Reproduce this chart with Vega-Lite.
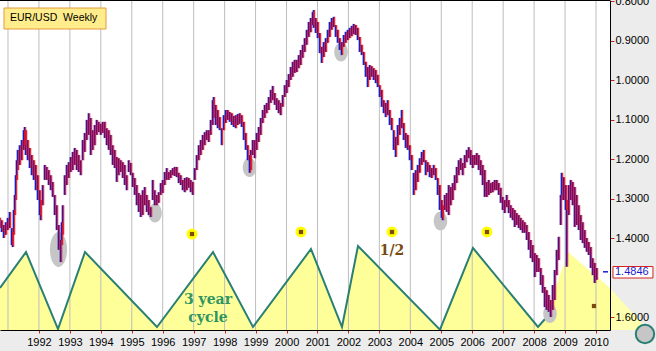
{
  "$schema": "https://vega.github.io/schema/vega-lite/v6.json",
  "width": 610,
  "height": 330,
  "autosize": {"type": "none"},
  "padding": {"left": 0, "top": 0, "right": 46, "bottom": 21},
  "background": "#ececec",
  "config": {
    "view": {"fill": "white", "stroke": null},
    "font": "Liberation Sans",
    "axisX": {"labelOverlap": false, "labelFlush": false, "labelFontSize": 11, "labelColor": "#000000", "labelPadding": 3, "tickColor": "#cc2222", "tickSize": 3, "domainColor": "#000000", "grid": false, "title": null},
    "axisY": {"labelOverlap": false, "labelFontSize": 11, "labelColor": "#000000", "labelPadding": 1, "tickColor": "#cc2222", "tickSize": 4, "domainColor": "#000000", "grid": false, "title": null}
  },
  "datasets": {
    "fill": [{"t":1990.742,"v":1.5256},{"t":1991.582,"v":1.4345},{"t":1992.616,"v":1.6294},{"t":1993.488,"v":1.4345},{"t":1995.815,"v":1.6243},{"t":1997.624,"v":1.4345},{"t":1998.916,"v":1.6243},{"t":2000.790,"v":1.4269},{"t":2001.792,"v":1.6243},{"t":2002.309,"v":1.4193},{"t":2004.958,"v":1.631},{"t":2006.025,"v":1.4243},{"t":2008.125,"v":1.6243},{"t":2008.351,"v":1.6041},{"t":2009.094,"v":1.4345},{"t":2010.452,"v":1.5256}],
    "zig": [{"t":1990.742,"v":1.5256},{"t":1991.582,"v":1.4345},{"t":1992.616,"v":1.6294},{"t":1993.488,"v":1.4345},{"t":1995.815,"v":1.6243},{"t":1997.624,"v":1.4345},{"t":1998.916,"v":1.6243},{"t":2000.790,"v":1.4269},{"t":2001.792,"v":1.6243},{"t":2002.309,"v":1.4193},{"t":2004.958,"v":1.631},{"t":2006.025,"v":1.4243},{"t":2008.125,"v":1.6243},{"t":2008.351,"v":1.6041}],
    "proj": [{"t":2010.452,"v":1.5256},{"t":2011.679,"v":1.6319}],
    "years": [{"t":1991},{"t":1992},{"t":1993},{"t":1994},{"t":1995},{"t":1996},{"t":1997},{"t":1998},{"t":1999},{"t":2000},{"t":2001},{"t":2002},{"t":2003},{"t":2004},{"t":2005},{"t":2006},{"t":2007},{"t":2008},{"t":2009},{"t":2010}],
    "bigLow": [{"t":1992.632,"v":1.4281}],
    "lows": [{"t":1995.750,"v":1.3357},{"t":1998.803,"v":1.2205},{"t":2001.760,"v":0.9281},{"t":2004.974,"v":1.3560},{"t":2008.513,"v":1.5902}],
    "dots": [{"t":1996.946,"v":1.3889},{"t":2000.467,"v":1.3838},{"t":2003.408,"v":1.3838},{"t":2006.477,"v":1.3838}],
    "marks": [{"t":1996.946,"v":1.3889},{"t":2000.467,"v":1.3838},{"t":2003.408,"v":1.3838},{"t":2006.477,"v":1.3838},{"t":2009.934,"v":1.5712}],
    "price": [
{"t":1990.742,"a":1.348,"b":1.374},{"t":1990.807,"a":1.354,"b":1.384},{"t":1990.871,"a":1.366,"b":1.399},{"t":1990.936,"a":1.359,"b":1.391},{"t":1991.000,"a":1.348,"b":1.379},{"t":1991.065,"a":1.333,"b":1.374},{"t":1991.130,"a":1.374,"b":1.417},{"t":1991.162,"a":1.384,"b":1.422},{"t":1991.194,"a":1.328,"b":1.391},{"t":1991.227,"a":1.290,"b":1.341},{"t":1991.259,"a":1.240,"b":1.303},{"t":1991.291,"a":1.202,"b":1.252},{"t":1991.324,"a":1.176,"b":1.227},{"t":1991.388,"a":1.164,"b":1.214},{"t":1991.453,"a":1.151,"b":1.202},{"t":1991.517,"a":1.126,"b":1.176},{"t":1991.550,"a":1.118,"b":1.164},{"t":1991.582,"a":1.126,"b":1.189},{"t":1991.647,"a":1.151,"b":1.202},{"t":1991.711,"a":1.171,"b":1.222},{"t":1991.776,"a":1.189,"b":1.240},{"t":1991.841,"a":1.202,"b":1.252},{"t":1991.905,"a":1.214,"b":1.278},{"t":1991.970,"a":1.240,"b":1.303},
{"t":1992.034,"a":1.278,"b":1.341},{"t":1992.067,"a":1.303,"b":1.354},{"t":1992.131,"a":1.265,"b":1.316},{"t":1992.196,"a":1.214,"b":1.252},{"t":1992.261,"a":1.219,"b":1.252},{"t":1992.325,"a":1.227,"b":1.265},{"t":1992.390,"a":1.240,"b":1.278},{"t":1992.454,"a":1.257,"b":1.295},{"t":1992.519,"a":1.290,"b":1.341},{"t":1992.584,"a":1.316,"b":1.379},{"t":1992.648,"a":1.366,"b":1.429},{"t":1992.713,"a":1.404,"b":1.460},{"t":1992.745,"a":1.359,"b":1.417},{"t":1992.778,"a":1.316,"b":1.391},{"t":1992.842,"a":1.240,"b":1.290},{"t":1992.907,"a":1.214,"b":1.265},{"t":1992.971,"a":1.207,"b":1.247},
{"t":1993.036,"a":1.194,"b":1.232},{"t":1993.101,"a":1.181,"b":1.227},{"t":1993.165,"a":1.171,"b":1.214},{"t":1993.230,"a":1.176,"b":1.227},{"t":1993.294,"a":1.189,"b":1.232},{"t":1993.359,"a":1.202,"b":1.240},{"t":1993.424,"a":1.151,"b":1.202},{"t":1993.488,"a":1.133,"b":1.181},{"t":1993.553,"a":1.100,"b":1.151},{"t":1993.618,"a":1.083,"b":1.138},{"t":1993.682,"a":1.095,"b":1.189},{"t":1993.747,"a":1.126,"b":1.176},{"t":1993.811,"a":1.113,"b":1.164},{"t":1993.876,"a":1.100,"b":1.138},{"t":1993.941,"a":1.105,"b":1.131},
{"t":1994.005,"a":1.110,"b":1.138},{"t":1994.070,"a":1.105,"b":1.133},{"t":1994.135,"a":1.105,"b":1.146},{"t":1994.199,"a":1.121,"b":1.164},{"t":1994.264,"a":1.126,"b":1.176},{"t":1994.328,"a":1.138,"b":1.189},{"t":1994.393,"a":1.164,"b":1.214},{"t":1994.458,"a":1.176,"b":1.222},{"t":1994.522,"a":1.194,"b":1.257},{"t":1994.587,"a":1.197,"b":1.240},{"t":1994.652,"a":1.202,"b":1.232},{"t":1994.716,"a":1.207,"b":1.247},{"t":1994.781,"a":1.214,"b":1.265},{"t":1994.845,"a":1.240,"b":1.278},{"t":1994.910,"a":1.202,"b":1.232},{"t":1994.975,"a":1.209,"b":1.240},
{"t":1995.039,"a":1.234,"b":1.270},{"t":1995.104,"a":1.247,"b":1.290},{"t":1995.168,"a":1.265,"b":1.316},{"t":1995.233,"a":1.285,"b":1.333},{"t":1995.298,"a":1.290,"b":1.346},{"t":1995.362,"a":1.278,"b":1.341},{"t":1995.427,"a":1.270,"b":1.316},{"t":1995.492,"a":1.290,"b":1.333},{"t":1995.556,"a":1.303,"b":1.341},{"t":1995.621,"a":1.321,"b":1.346},{"t":1995.685,"a":1.252,"b":1.303},{"t":1995.750,"a":1.278,"b":1.316},{"t":1995.815,"a":1.290,"b":1.316},{"t":1995.879,"a":1.283,"b":1.310},{"t":1995.944,"a":1.260,"b":1.290},
{"t":1996.008,"a":1.252,"b":1.285},{"t":1996.073,"a":1.232,"b":1.265},{"t":1996.138,"a":1.222,"b":1.252},{"t":1996.202,"a":1.232,"b":1.252},{"t":1996.267,"a":1.227,"b":1.247},{"t":1996.332,"a":1.222,"b":1.240},{"t":1996.396,"a":1.219,"b":1.242},{"t":1996.461,"a":1.219,"b":1.245},{"t":1996.525,"a":1.234,"b":1.260},{"t":1996.590,"a":1.240,"b":1.265},{"t":1996.655,"a":1.252,"b":1.278},{"t":1996.719,"a":1.247,"b":1.283},{"t":1996.784,"a":1.245,"b":1.278},{"t":1996.848,"a":1.247,"b":1.272},{"t":1996.913,"a":1.252,"b":1.283},{"t":1996.978,"a":1.257,"b":1.290},
{"t":1997.042,"a":1.222,"b":1.252},{"t":1997.107,"a":1.189,"b":1.227},{"t":1997.172,"a":1.164,"b":1.202},{"t":1997.236,"a":1.151,"b":1.189},{"t":1997.301,"a":1.138,"b":1.176},{"t":1997.366,"a":1.131,"b":1.164},{"t":1997.430,"a":1.126,"b":1.151},{"t":1997.495,"a":1.126,"b":1.156},{"t":1997.559,"a":1.100,"b":1.138},{"t":1997.624,"a":1.050,"b":1.113},{"t":1997.656,"a":1.042,"b":1.095},{"t":1997.721,"a":1.062,"b":1.113},{"t":1997.786,"a":1.075,"b":1.121},{"t":1997.850,"a":1.093,"b":1.126},{"t":1997.915,"a":1.121,"b":1.164},{"t":1997.979,"a":1.088,"b":1.126},
{"t":1998.044,"a":1.075,"b":1.108},{"t":1998.109,"a":1.075,"b":1.100},{"t":1998.173,"a":1.080,"b":1.105},{"t":1998.238,"a":1.083,"b":1.113},{"t":1998.303,"a":1.090,"b":1.118},{"t":1998.367,"a":1.088,"b":1.121},{"t":1998.432,"a":1.085,"b":1.113},{"t":1998.496,"a":1.083,"b":1.110},{"t":1998.561,"a":1.088,"b":1.118},{"t":1998.626,"a":1.105,"b":1.151},{"t":1998.690,"a":1.133,"b":1.176},{"t":1998.755,"a":1.164,"b":1.202},{"t":1998.820,"a":1.189,"b":1.234},{"t":1998.852,"a":1.176,"b":1.227},{"t":1998.916,"a":1.151,"b":1.189},{"t":1998.981,"a":1.151,"b":1.197},
{"t":1999.046,"a":1.133,"b":1.176},{"t":1999.110,"a":1.118,"b":1.156},{"t":1999.175,"a":1.095,"b":1.138},{"t":1999.240,"a":1.075,"b":1.108},{"t":1999.304,"a":1.062,"b":1.095},{"t":1999.369,"a":1.057,"b":1.083},{"t":1999.433,"a":1.042,"b":1.075},{"t":1999.498,"a":1.024,"b":1.057},{"t":1999.563,"a":1.014,"b":1.050},{"t":1999.627,"a":1.032,"b":1.062},{"t":1999.692,"a":1.045,"b":1.075},{"t":1999.756,"a":1.050,"b":1.083},{"t":1999.821,"a":1.057,"b":1.088},{"t":1999.886,"a":1.037,"b":1.067},{"t":1999.950,"a":1.012,"b":1.042},
{"t":2000.015,"a":0.999,"b":1.032},{"t":2000.079,"a":0.984,"b":1.017},{"t":2000.144,"a":0.966,"b":0.999},{"t":2000.209,"a":0.953,"b":0.991},{"t":2000.273,"a":0.948,"b":0.981},{"t":2000.338,"a":0.948,"b":0.979},{"t":2000.403,"a":0.936,"b":0.969},{"t":2000.467,"a":0.923,"b":0.961},{"t":2000.532,"a":0.910,"b":0.943},{"t":2000.596,"a":0.893,"b":0.928},{"t":2000.661,"a":0.872,"b":0.910},{"t":2000.726,"a":0.852,"b":0.890},{"t":2000.790,"a":0.842,"b":0.878},{"t":2000.855,"a":0.827,"b":0.860},{"t":2000.887,"a":0.822,"b":0.867},{"t":2000.952,"a":0.842,"b":0.880},
{"t":2001.017,"a":0.852,"b":0.893},{"t":2001.081,"a":0.880,"b":0.931},{"t":2001.146,"a":0.915,"b":0.956},{"t":2001.210,"a":0.903,"b":0.941},{"t":2001.275,"a":0.893,"b":0.928},{"t":2001.340,"a":0.872,"b":0.905},{"t":2001.404,"a":0.852,"b":0.890},{"t":2001.469,"a":0.842,"b":0.872},{"t":2001.534,"a":0.839,"b":0.865},{"t":2001.598,"a":0.860,"b":0.890},{"t":2001.663,"a":0.872,"b":0.905},{"t":2001.727,"a":0.893,"b":0.923},{"t":2001.792,"a":0.903,"b":0.936},{"t":2001.857,"a":0.885,"b":0.915},{"t":2001.921,"a":0.877,"b":0.905},{"t":2001.986,"a":0.872,"b":0.898},
{"t":2002.051,"a":0.867,"b":0.893},{"t":2002.115,"a":0.862,"b":0.888},{"t":2002.180,"a":0.857,"b":0.883},{"t":2002.244,"a":0.860,"b":0.885},{"t":2002.309,"a":0.867,"b":0.898},{"t":2002.374,"a":0.890,"b":0.928},{"t":2002.438,"a":0.910,"b":0.936},{"t":2002.503,"a":0.928,"b":0.961},{"t":2002.567,"a":0.953,"b":0.991},{"t":2002.632,"a":0.966,"b":1.017},{"t":2002.697,"a":0.961,"b":0.999},{"t":2002.761,"a":0.964,"b":0.991},{"t":2002.826,"a":0.969,"b":0.999},{"t":2002.891,"a":0.974,"b":1.007},{"t":2002.955,"a":0.986,"b":1.017},
{"t":2003.020,"a":1.012,"b":1.042},{"t":2003.084,"a":1.024,"b":1.067},{"t":2003.149,"a":1.050,"b":1.083},{"t":2003.214,"a":1.057,"b":1.093},{"t":2003.278,"a":1.050,"b":1.088},{"t":2003.343,"a":1.075,"b":1.113},{"t":2003.408,"a":1.095,"b":1.126},{"t":2003.472,"a":1.126,"b":1.176},{"t":2003.537,"a":1.143,"b":1.194},{"t":2003.601,"a":1.113,"b":1.164},{"t":2003.666,"a":1.095,"b":1.138},{"t":2003.731,"a":1.075,"b":1.121},{"t":2003.795,"a":1.108,"b":1.151},{"t":2003.860,"a":1.133,"b":1.171},{"t":2003.924,"a":1.138,"b":1.176},{"t":2003.989,"a":1.164,"b":1.202},
{"t":2004.054,"a":1.189,"b":1.227},{"t":2004.118,"a":1.234,"b":1.290},{"t":2004.183,"a":1.227,"b":1.278},{"t":2004.248,"a":1.214,"b":1.257},{"t":2004.312,"a":1.197,"b":1.234},{"t":2004.377,"a":1.181,"b":1.214},{"t":2004.441,"a":1.176,"b":1.207},{"t":2004.506,"a":1.202,"b":1.240},{"t":2004.571,"a":1.207,"b":1.232},{"t":2004.635,"a":1.214,"b":1.245},{"t":2004.700,"a":1.222,"b":1.247},{"t":2004.765,"a":1.214,"b":1.240},{"t":2004.829,"a":1.222,"b":1.252},{"t":2004.894,"a":1.247,"b":1.290},{"t":2004.958,"a":1.265,"b":1.328},
{"t":2005.023,"a":1.303,"b":1.348},{"t":2005.055,"a":1.316,"b":1.354},{"t":2005.120,"a":1.290,"b":1.328},{"t":2005.185,"a":1.285,"b":1.333},{"t":2005.249,"a":1.265,"b":1.341},{"t":2005.314,"a":1.270,"b":1.316},{"t":2005.378,"a":1.260,"b":1.303},{"t":2005.443,"a":1.240,"b":1.278},{"t":2005.508,"a":1.219,"b":1.260},{"t":2005.572,"a":1.202,"b":1.240},{"t":2005.637,"a":1.197,"b":1.227},{"t":2005.702,"a":1.209,"b":1.240},{"t":2005.766,"a":1.189,"b":1.222},{"t":2005.831,"a":1.176,"b":1.207},{"t":2005.895,"a":1.169,"b":1.197},{"t":2005.960,"a":1.176,"b":1.214},
{"t":2006.025,"a":1.189,"b":1.222},{"t":2006.089,"a":1.189,"b":1.214},{"t":2006.154,"a":1.184,"b":1.214},{"t":2006.218,"a":1.189,"b":1.227},{"t":2006.283,"a":1.202,"b":1.240},{"t":2006.348,"a":1.214,"b":1.265},{"t":2006.412,"a":1.227,"b":1.295},{"t":2006.477,"a":1.257,"b":1.295},{"t":2006.541,"a":1.252,"b":1.290},{"t":2006.606,"a":1.260,"b":1.285},{"t":2006.671,"a":1.257,"b":1.283},{"t":2006.735,"a":1.252,"b":1.278},{"t":2006.800,"a":1.252,"b":1.278},{"t":2006.865,"a":1.260,"b":1.290},{"t":2006.929,"a":1.272,"b":1.310},{"t":2006.994,"a":1.295,"b":1.328},
{"t":2007.058,"a":1.303,"b":1.336},{"t":2007.123,"a":1.290,"b":1.321},{"t":2007.188,"a":1.303,"b":1.336},{"t":2007.252,"a":1.316,"b":1.348},{"t":2007.317,"a":1.323,"b":1.354},{"t":2007.381,"a":1.328,"b":1.371},{"t":2007.446,"a":1.336,"b":1.366},{"t":2007.511,"a":1.341,"b":1.374},{"t":2007.575,"a":1.348,"b":1.379},{"t":2007.640,"a":1.354,"b":1.386},{"t":2007.705,"a":1.359,"b":1.386},{"t":2007.769,"a":1.366,"b":1.404},{"t":2007.834,"a":1.384,"b":1.429},{"t":2007.898,"a":1.404,"b":1.450},{"t":2007.963,"a":1.417,"b":1.460},
{"t":2008.028,"a":1.437,"b":1.498},{"t":2008.092,"a":1.442,"b":1.485},{"t":2008.157,"a":1.450,"b":1.485},{"t":2008.222,"a":1.475,"b":1.518},{"t":2008.286,"a":1.493,"b":1.538},{"t":2008.351,"a":1.523,"b":1.574},{"t":2008.415,"a":1.531,"b":1.581},{"t":2008.480,"a":1.543,"b":1.586},{"t":2008.545,"a":1.556,"b":1.599},{"t":2008.609,"a":1.518,"b":1.581},{"t":2008.674,"a":1.480,"b":1.556},{"t":2008.738,"a":1.429,"b":1.493},{"t":2008.803,"a":1.396,"b":1.455},{"t":2008.868,"a":1.290,"b":1.366},{"t":2008.900,"a":1.234,"b":1.303},{"t":2008.964,"a":1.245,"b":1.303},
{"t":2009.029,"a":1.265,"b":1.328},{"t":2009.062,"a":1.303,"b":1.472},{"t":2009.126,"a":1.265,"b":1.341},{"t":2009.191,"a":1.252,"b":1.303},{"t":2009.255,"a":1.257,"b":1.316},{"t":2009.320,"a":1.270,"b":1.371},{"t":2009.385,"a":1.290,"b":1.366},{"t":2009.449,"a":1.316,"b":1.379},{"t":2009.514,"a":1.341,"b":1.404},{"t":2009.579,"a":1.359,"b":1.412},{"t":2009.643,"a":1.379,"b":1.424},{"t":2009.708,"a":1.399,"b":1.434},{"t":2009.772,"a":1.409,"b":1.442},{"t":2009.837,"a":1.422,"b":1.475},{"t":2009.902,"a":1.450,"b":1.493},{"t":2009.966,"a":1.462,"b":1.513},{"t":2010.031,"a":1.475,"b":1.505}
    ]
  },
  "layer": [
    {
      "data": {"name": "fill"},
      "mark": {"type": "area", "color": "#ffff99", "clip": true},
      "encoding": {
        "x": {"field": "t", "type": "quantitative", "scale": {"domain": [1990.742, 2010.452], "nice": false, "zero": false},
          "axis": {"orient": "bottom", "values": [1992,1993,1994,1995,1996,1997,1998,1999,2000,2001,2002,2003,2004,2005,2006,2007,2008,2009,2010], "tickCount": 20, "labelExpr": "datum.value < 1991.5 ? '' : datum.label", "format": "d", "zindex": 1}},
        "y": {"field": "v", "type": "quantitative", "scale": {"domain": [0.7965, 1.6319], "reverse": true, "nice": false, "zero": false},
          "axis": {"orient": "right", "values": [0.8,0.9,1.0,1.1,1.2,1.3,1.4,1.6], "labelExpr": "abs(datum.value - 1.5) < 0.01 ? '' : datum.label", "format": ".4f", "zindex": 1}},
        "y2": {"datum": 1.6319}
      }
    },
    {
      "data": {"name": "proj"},
      "mark": {"type": "area", "color": "#ffffb0", "clip": false},
      "encoding": {
        "x": {"field": "t", "type": "quantitative"},
        "y": {"field": "v", "type": "quantitative", "axis": {"orient": "right"}},
        "y2": {"datum": 1.6319}
      }
    },
    {
      "data": {"name": "years"},
      "mark": {"type": "rule", "color": "#bdbdbd", "strokeWidth": 1},
      "encoding": {
        "x": {"field": "t", "type": "quantitative"}
      }
    },
    {
      "data": {"name": "zig"},
      "mark": {"type": "line", "color": "#2a7f74", "strokeWidth": 2, "clip": true},
      "encoding": {
        "x": {"field": "t", "type": "quantitative"},
        "y": {"field": "v", "type": "quantitative", "axis": {"orient": "right"}}
      }
    },
    {
      "data": {"name": "bigLow"},
      "mark": {"type": "point", "filled": true, "color": "#c6c6c6", "opacity": 1, "size": 1225,
        "shape": "M0,-1C0.27,-1 0.49,-0.552 0.49,0C0.49,0.552 0.27,1 0,1C-0.27,1 -0.49,0.552 -0.49,0C-0.49,-0.552 -0.27,-1 0,-1Z"},
      "encoding": {
        "x": {"field": "t", "type": "quantitative"},
        "y": {"field": "v", "type": "quantitative", "axis": {"orient": "right"}}
      }
    },
    {
      "data": {"name": "lows"},
      "mark": {"type": "point", "filled": true, "color": "#c6c6c6", "opacity": 1, "size": 361,
        "shape": "M0,-1C0.392,-1 0.71,-0.552 0.71,0C0.71,0.552 0.392,1 0,1C-0.392,1 -0.71,0.552 -0.71,0C-0.71,-0.552 -0.392,-1 0,-1Z"},
      "encoding": {
        "x": {"field": "t", "type": "quantitative"},
        "y": {"field": "v", "type": "quantitative", "axis": {"orient": "right"}}
      }
    },
    {
      "data": {"name": "price"},
      "mark": {"type": "rule", "strokeWidth": 1.7, "color": "#1c1cb8", "xOffset": -0.5},
      "encoding": {
        "x": {"field": "t", "type": "quantitative"},
        "y": {"field": "a", "type": "quantitative", "axis": {"orient": "right"}},
        "y2": {"field": "b"}
      }
    },
    {
      "data": {"name": "price"},
      "mark": {"type": "rule", "strokeWidth": 1.1, "color": "#e81420", "xOffset": 0.7},
      "encoding": {
        "x": {"field": "t", "type": "quantitative"},
        "y": {"field": "a", "type": "quantitative", "axis": {"orient": "right"}},
        "y2": {"field": "b"}
      }
    },
    {
      "data": {"name": "dots"},
      "mark": {"type": "point", "shape": "circle", "filled": true, "color": "#ffff00", "opacity": 1, "size": 120},
      "encoding": {
        "x": {"field": "t", "type": "quantitative"},
        "y": {"field": "v", "type": "quantitative", "axis": {"orient": "right"}}
      }
    },
    {
      "data": {"name": "marks"},
      "mark": {"type": "point", "shape": "square", "filled": true, "color": "#7a4a10", "opacity": 1, "size": 18},
      "encoding": {
        "x": {"field": "t", "type": "quantitative"},
        "y": {"field": "v", "type": "quantitative", "axis": {"orient": "right"}}
      }
    },
    {
      "data": {"values": [{"t": 1997.462, "v": 1.556}]},
      "mark": {"type": "text", "text": "3 year\ncycle", "lineBreak": "\n", "lineHeight": 18, "font": "DejaVu Serif", "fontSize": 14, "fontWeight": "bold", "color": "#2f9462", "align": "center", "baseline": "middle"},
      "encoding": {
        "x": {"field": "t", "type": "quantitative"},
        "y": {"field": "v", "type": "quantitative", "axis": {"orient": "right"}}
      }
    },
    {
      "data": {"values": [{"t": 2003.408, "v": 1.4320}]},
      "mark": {"type": "text", "text": "1/2", "font": "DejaVu Serif", "fontSize": 14, "fontWeight": "bold", "color": "#7b4a12", "align": "center", "baseline": "middle"},
      "encoding": {
        "x": {"field": "t", "type": "quantitative"},
        "y": {"field": "v", "type": "quantitative", "axis": {"orient": "right"}}
      }
    },
    {
      "data": {"values": [{"v": 0.7965}]},
      "mark": {"type": "rule", "color": "#000000", "strokeWidth": 2},
      "encoding": {
        "y": {"field": "v", "type": "quantitative", "axis": {"orient": "right"}}
      }
    },
    {
      "data": {"values": [{"t": 1990.871, "t2": 1994.167, "v": 0.8168, "v2": 0.8699}]},
      "mark": {"type": "rect", "fill": "#ffec8b", "stroke": "#e39b3c", "strokeWidth": 1},
      "encoding": {
        "x": {"field": "t", "type": "quantitative"},
        "x2": {"field": "t2"},
        "y": {"field": "v", "type": "quantitative", "axis": {"orient": "right"}},
        "y2": {"field": "v2"}
      }
    },
    {
      "data": {"values": [{"t": 1991.065, "v": 0.8433, "label": "EUR/USD\u00a0\u00a0Weekly"}]},
      "mark": {"type": "text", "fontSize": 10.5, "color": "#000000", "align": "left", "baseline": "middle"},
      "encoding": {
        "x": {"field": "t", "type": "quantitative"},
        "y": {"field": "v", "type": "quantitative", "axis": {"orient": "right"}},
        "text": {"field": "label"}
      }
    },
    {
      "data": {"values": [{"t": 2010.225, "t2": 2010.387, "v": 1.4846}]},
      "mark": {"type": "rule", "color": "#1a1ad0", "strokeWidth": 1.5, "clip": false},
      "encoding": {
        "x": {"field": "t", "type": "quantitative"},
        "x2": {"field": "t2"},
        "y": {"field": "v", "type": "quantitative", "axis": {"orient": "right"}}
      }
    },
    {
      "data": {"values": [{"t": 2010.548, "t2": 2011.840, "v": 1.4712, "v2": 1.5003}]},
      "mark": {"type": "rect", "fill": "#ffffff", "stroke": "#d42020", "strokeWidth": 1, "clip": false},
      "encoding": {
        "x": {"field": "t", "type": "quantitative"},
        "x2": {"field": "t2"},
        "y": {"field": "v", "type": "quantitative", "axis": {"orient": "right"}},
        "y2": {"field": "v2"}
      }
    },
    {
      "data": {"values": [{"t": 2010.613, "v": 1.4846, "label": "1.4846"}]},
      "mark": {"type": "text", "fontSize": 11, "color": "#1a1ad0", "align": "left", "baseline": "middle", "clip": false},
      "encoding": {
        "x": {"field": "t", "type": "quantitative"},
        "y": {"field": "v", "type": "quantitative", "axis": {"orient": "right"}},
        "text": {"field": "label"}
      }
    },
    {
      "data": {"values": [{"t": 2011.582, "v": 1.642}]},
      "mark": {"type": "point", "shape": "circle", "filled": true, "fill": "#c6c6c6", "stroke": "#2a7f74", "strokeWidth": 2, "opacity": 1, "size": 340, "clip": false},
      "encoding": {
        "x": {"field": "t", "type": "quantitative"},
        "y": {"field": "v", "type": "quantitative", "axis": {"orient": "right"}}
      }
    }
  ]
}
